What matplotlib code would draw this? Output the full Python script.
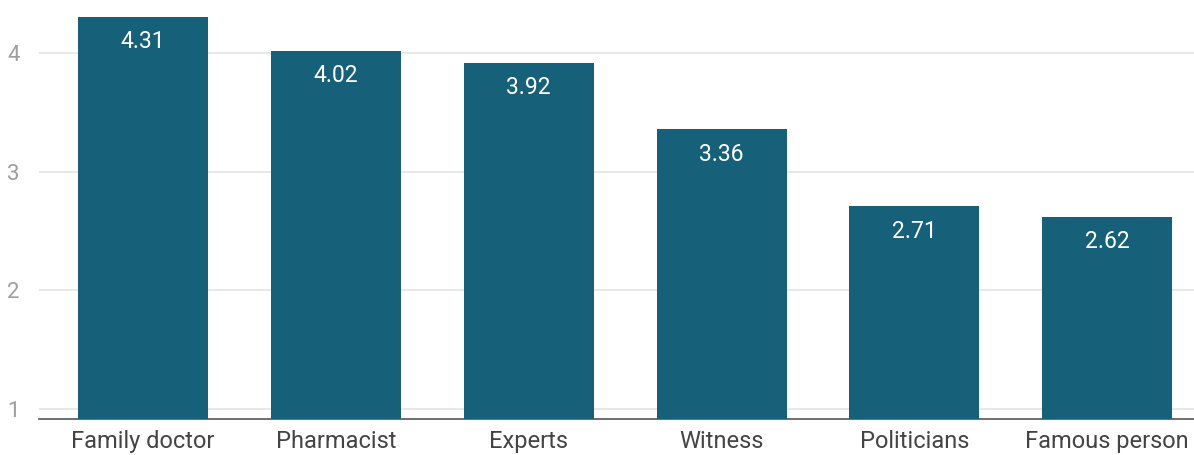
import matplotlib
matplotlib.use("Agg")
import matplotlib.pyplot as plt

categories = ["Family doctor", "Pharmacist", "Experts", "Witness", "Politicians", "Famous person"]
values = [4.31, 4.02, 3.92, 3.36, 2.71, 2.62]
yticks = [1, 2, 3, 4]

plt.rcParams['font.family'] = ['Roboto', 'DejaVu Sans']
bar_color = "#17607a"

fig = plt.figure(figsize=(11.94, 4.55), dpi=100)
ax = fig.add_axes([0.0327, 0.0791, 0.9673, 0.9209])

x = list(range(len(categories)))
ax.bar(x, values, width=0.674, color=bar_color, zorder=3)
ax.set_ylim(0.916, 4.45)
ax.set_xlim(-0.54, 5.45)

for xi, v in zip(x, values):
    ax.annotate(f"{v:.2f}", xy=(xi, v), xytext=(0, -18), textcoords='offset points',
                ha='center', va='center', color='white', fontsize=16.5, zorder=4)

ax.set_yticks(yticks)
ax.set_yticklabels([str(t) for t in yticks])
ax.yaxis.grid(True, color='#e6e6e6', linewidth=1.3, zorder=0)
ax.set_axisbelow(True)
ax.tick_params(axis='y', length=0, labelsize=16, labelcolor='#9e9e9e', pad=14)
ax.tick_params(axis='x', length=0, labelsize=17, labelcolor='#444444', pad=8)
ax.set_xticks(x)
ax.set_xticklabels(categories)

for s in ['top', 'right', 'left']:
    ax.spines[s].set_visible(False)
ax.spines['bottom'].set_color('#555555')
ax.spines['bottom'].set_linewidth(1.2)

fig.savefig("out.png", dpi=100)
